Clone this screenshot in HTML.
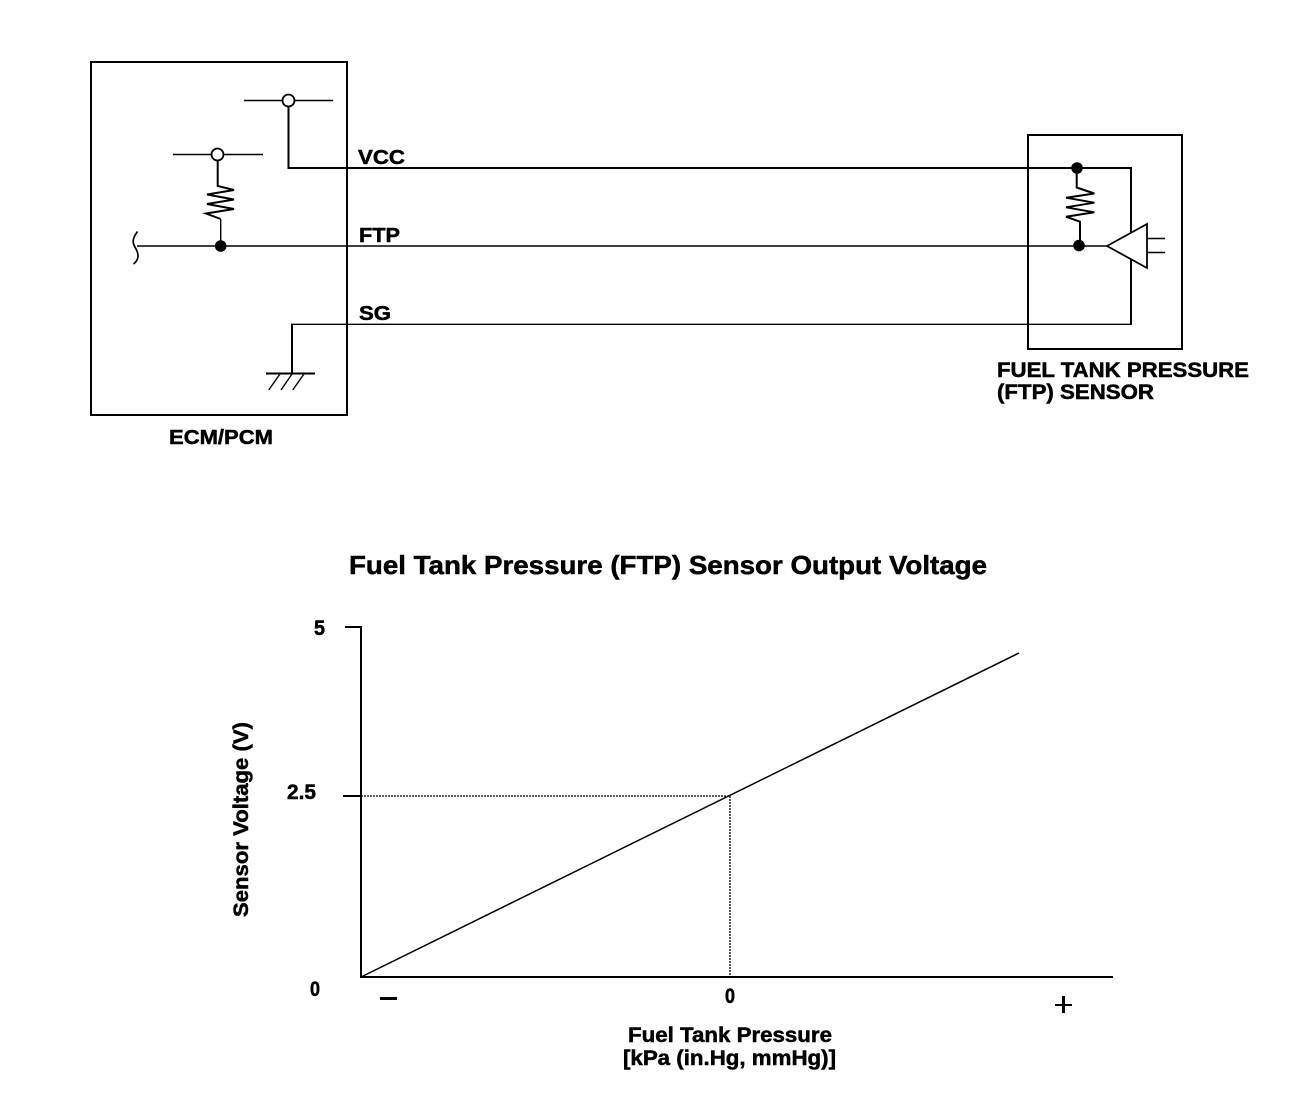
<!DOCTYPE html>
<html>
<head>
<meta charset="utf-8">
<style>
html,body{margin:0;padding:0;background:#fff;}
svg{display:block;}
text{font-family:"Liberation Sans",sans-serif;font-weight:bold;fill:#000;stroke:#000;stroke-width:0.5;}
</style>
</head>
<body>
<svg width="1312" height="1108" viewBox="0 0 1312 1108" xmlns="http://www.w3.org/2000/svg">
<rect width="1312" height="1108" fill="#fff"/>
<g fill="none" stroke="#000" stroke-width="2">
  <rect x="91" y="62" width="256" height="353"/>
  <rect x="1028" y="135" width="154" height="214"/>
  <polyline points="288.5,106 288.5,168 1131,168 1131,324"/>
  <line x1="292" y1="324" x2="292" y2="374"/>
  <polyline points="217.7,161 217.7,186 234,190 207,194.5 234,199.5 207,204 234,209 206,213.5 220.7,219"/>
  <polyline points="1076.7,168 1076.7,187.5 1094.3,193.5 1066,197.7 1094.3,202.7 1066,207.3 1094.3,212.3 1066,216.7 1080,221.7 1080,246"/>
  <line x1="266" y1="373.5" x2="315" y2="373.5"/>
</g>
<g fill="none" stroke="#000" stroke-width="1.4">
  <line x1="244" y1="100.5" x2="333" y2="100.5"/>
  <line x1="173" y1="154.5" x2="263" y2="154.5"/>
  <line x1="220.7" y1="219" x2="220.7" y2="246"/>
  <line x1="137" y1="246" x2="1107" y2="246"/>
  <line x1="291" y1="324.300" x2="1132" y2="324.300"/>
  <path d="M137.500 231.500 C131 240 133 244 136 249 C139 254 139 260 133.500 264" stroke-width="1.700"/>
  <line x1="280" y1="374" x2="268.700" y2="390"/>
  <line x1="292" y1="374" x2="281" y2="390"/>
  <line x1="304" y1="374" x2="292.700" y2="390"/>
  <line x1="1147" y1="238.500" x2="1165" y2="238.500"/>
  <line x1="1147" y1="252.500" x2="1165" y2="252.500"/>
</g>
<circle cx="288.500" cy="100.500" r="6" fill="#fff" stroke="#000" stroke-width="1.800"/>
<circle cx="217.500" cy="154.500" r="6" fill="#fff" stroke="#000" stroke-width="1.800"/>
<circle cx="220.700" cy="246" r="5.800" fill="#000"/>
<circle cx="1077" cy="168" r="5.800" fill="#000"/>
<circle cx="1079" cy="245.500" r="5.800" fill="#000"/>
<polygon points="1107,246 1147,224 1147,268" fill="#fff" stroke="#000" stroke-width="1.800"/>

<text x="358" y="164" font-size="20" textLength="47" lengthAdjust="spacingAndGlyphs">VCC</text>
<text x="359" y="242" font-size="20" textLength="41" lengthAdjust="spacingAndGlyphs">FTP</text>
<text x="359" y="320" font-size="20" textLength="32" lengthAdjust="spacingAndGlyphs">SG</text>
<text x="169" y="444" font-size="20" textLength="104" lengthAdjust="spacingAndGlyphs">ECM/PCM</text>
<text x="997" y="377" font-size="21" textLength="252" lengthAdjust="spacingAndGlyphs">FUEL TANK PRESSURE</text>
<text x="997" y="399" font-size="21" textLength="157" lengthAdjust="spacingAndGlyphs">(FTP) SENSOR</text>

<text x="349" y="574" font-size="26" textLength="638" lengthAdjust="spacingAndGlyphs">Fuel Tank Pressure (FTP) Sensor Output Voltage</text>

<g fill="none" stroke="#000" stroke-width="2">
  <polyline points="345,627 361,627 361,977 1113,977"/>
  <line x1="343" y1="796" x2="361" y2="796"/>
</g>
<line x1="361" y1="977" x2="1019" y2="653" stroke="#000" stroke-width="1.500"/>
<g fill="none" stroke="#000" stroke-width="1.300" stroke-dasharray="2 1">
  <line x1="361" y1="796" x2="730" y2="796"/>
  <line x1="730" y1="796" x2="730" y2="977"/>
</g>

<text x="314" y="635" font-size="21" textLength="11" lengthAdjust="spacingAndGlyphs">5</text>
<text x="287" y="799" font-size="21" textLength="29" lengthAdjust="spacingAndGlyphs">2.5</text>
<text x="310" y="996" font-size="21" textLength="10" lengthAdjust="spacingAndGlyphs">0</text>
<text x="725" y="1003" font-size="21" textLength="10" lengthAdjust="spacingAndGlyphs">0</text>
<rect x="380" y="997" width="17" height="3" fill="#000"/>
<rect x="1055" y="1004" width="17" height="2" fill="#000"/>
<rect x="1062" y="996" width="3" height="17" fill="#000"/>
<text x="628" y="1042" font-size="21" textLength="204" lengthAdjust="spacingAndGlyphs">Fuel Tank Pressure</text>
<text x="623" y="1065" font-size="21" textLength="213" lengthAdjust="spacingAndGlyphs">[kPa (in.Hg, mmHg)]</text>
<text transform="translate(248 917) rotate(-90)" font-size="21" textLength="195" lengthAdjust="spacingAndGlyphs">Sensor Voltage (V)</text>
</svg>
</body>
</html>
